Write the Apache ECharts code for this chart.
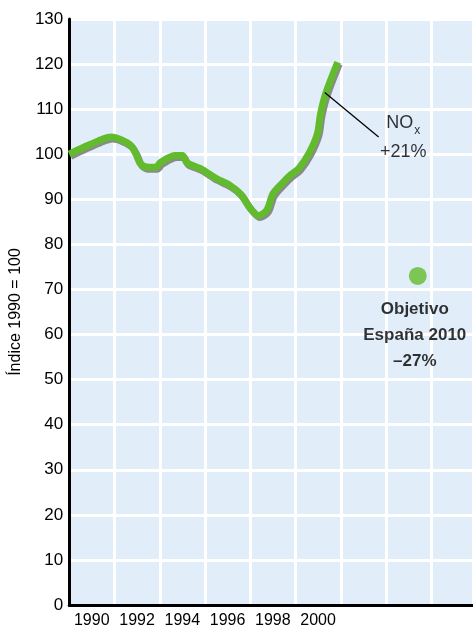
<!DOCTYPE html>
<html>
<head>
<meta charset="utf-8">
<script src="https://cdn.jsdelivr.net/npm/echarts@6/dist/echarts.min.js"></script>
<style>
  html, body { margin: 0; padding: 0; background: #fff; }
  #main { width: 473px; height: 629px; }
</style>
</head>
<body>
<div id="main"></div>
<script>
// NOx emissions index (1990 = 100)
const years = [1990.0, 1990.67, 1991.26, 1991.85, 1992.29, 1992.73, 1992.95, 1993.16, 1993.53, 1993.82,
  1994.04, 1994.7, 1995.0, 1995.2, 1995.8, 1996.5, 1997.1, 1997.56, 1998.0, 1998.37,
  1998.73, 1999.0, 1999.46, 1999.78, 2000.15, 2000.59, 2000.96, 2001.1, 2001.32, 2001.86];
const noxValues = [100.0, 101.6, 102.9, 103.8, 103.2, 101.9, 100.0, 97.8, 97.1, 97.1,
  98.2, 99.7, 99.7, 98.1, 96.8, 94.6, 93.1, 91.2, 88.0, 86.4,
  87.6, 91.2, 93.8, 95.4, 96.9, 100.2, 104.5, 108.9, 113.3, 120.4];

// target for 2010 (-27%)
const target = [2005.4, 73];
const targetLabel = 'Objetivo\nEspaña 2010\n–27%';

// annotation for the NOx curve
const pointerFrom = [2001.29, 113.7];
const pointerTo = [2003.67, 103.8];
const noxLabelAt = [2004.76, 103.6];

const xTicks = [1990, 1992, 1994, 1996, 1998, 2000];

const green = '#62bb2c';

const chart = echarts.init(document.getElementById('main'));
chart.setOption({
  animation: false,
  grid: { left: 68, right: 0, top: 19, bottom: 22.5, show: true, backgroundColor: '#e1eefa', borderWidth: 0 },
  xAxis: {
    type: 'value',
    min: 1990,
    max: 2007.84,
    interval: 2,
    axisLine: { show: true, onZero: false, lineStyle: { color: '#000', width: 3 } },
    axisTick: { show: false },
    splitLine: { show: true, lineStyle: { color: '#fff', width: 3 } },
    axisLabel: {
      color: '#000',
      fontSize: 16,
      fontFamily: 'Liberation Sans',
      margin: 8,
      padding: [0, 0, 0, 45],
      showMaxLabel: false,
      formatter: v => xTicks.indexOf(v) >= 0 ? String(v) : ''
    }
  },
  yAxis: {
    type: 'value',
    min: 0,
    max: 130,
    interval: 10,
    name: 'Índice 1990 = 100',
    nameLocation: 'middle',
    nameGap: 44,
    nameTextStyle: { color: '#000', fontSize: 16, fontFamily: 'Liberation Sans', padding: [0, 0, 0, 0] },
    axisLine: { show: true, lineStyle: { color: '#000', width: 3 } },
    axisTick: { show: false },
    splitLine: { show: true, lineStyle: { color: '#fff', width: 3 } },
    axisLabel: { color: '#000', fontSize: 17, fontFamily: 'Liberation Sans', margin: 6 }
  },
  series: [
    {
      type: 'line',
      data: years.map((y, i) => [y, noxValues[i]]),
      smooth: 0.3,
      showSymbol: false,
      lineStyle: {
        color: green,
        width: 7,
        shadowColor: '#8a8a8a',
        shadowOffsetX: 1.5,
        shadowOffsetY: 2,
        shadowBlur: 0
      },
      markLine: {
        silent: true,
        symbol: 'none',
        label: { show: false },
        lineStyle: { color: '#000', width: 1.3, type: 'solid' },
        data: [[{ coord: pointerFrom }, { coord: pointerTo }]]
      },
      z: 3
    },
    {
      type: 'scatter',
      data: [noxLabelAt],
      symbolSize: 0,
      label: {
        show: true,
        position: 'inside',
        formatter: '{a|NO}{s|x}\n{a|+21%}',
        rich: {
          a: { fontSize: 18, color: '#000', fontFamily: 'Liberation Sans', lineHeight: 29 },
          s: { fontSize: 12, color: '#000', fontFamily: 'Liberation Sans', padding: [14, 0, 0, 1] }
        }
      },
      z: 4
    },
    {
      type: 'scatter',
      data: [target],
      symbolSize: 18,
      itemStyle: { color: green },
      label: {
        show: true,
        position: 'bottom',
        distance: 11,
        offset: [-3, 0],
        formatter: targetLabel,
        color: '#000',
        fontSize: 17,
        fontWeight: 'bold',
        fontFamily: 'Liberation Sans',
        lineHeight: 26,
        align: 'center'
      },
      z: 4
    }
  ]
});
</script>
</body>
</html>
